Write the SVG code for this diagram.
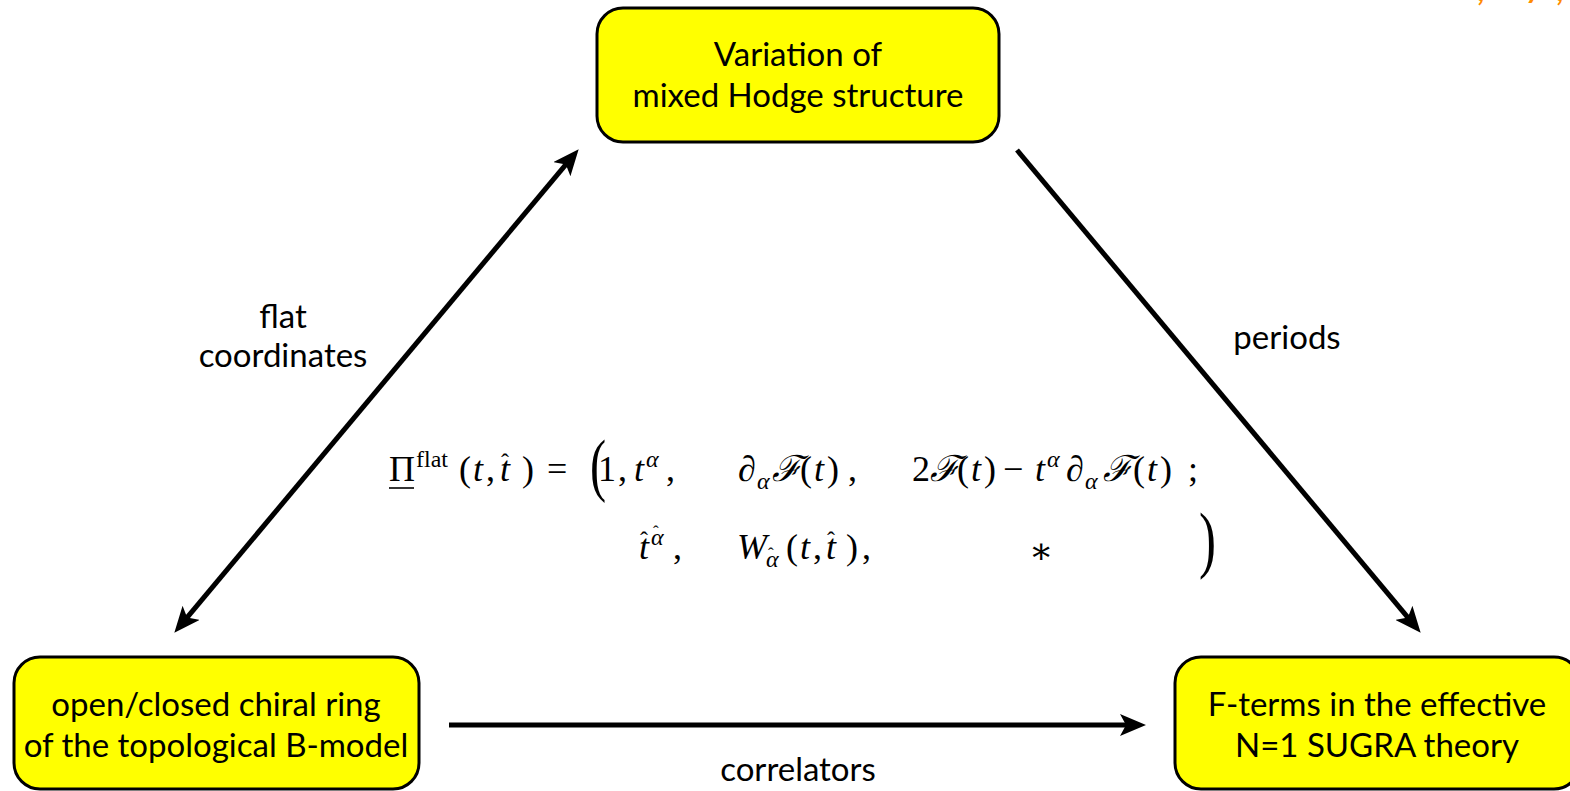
<svg xmlns="http://www.w3.org/2000/svg" width="1570" height="791" viewBox="0 0 1570 791">
<style>
.box{fill:#ffff00;stroke:#000;stroke-width:3}
.t{font-family:Lato,"Open Sans",sans-serif;font-size:33px;fill:#000;text-anchor:middle}
.m{font-family:"Liberation Serif","DejaVu Serif",serif;font-size:36px;fill:#000}
.i{font-style:italic}
.s{font-size:24px}
.h{font-size:24px}
.hs{font-size:17px}
.c{stroke:#000;stroke-width:5;fill:none}
.o{font-family:Lato,sans-serif;font-style:italic;font-weight:bold;font-size:30px;fill:#ff8c00}
</style>
<defs>
<marker id="ah" viewBox="0 0 26 22" refX="17" refY="11" markerWidth="26" markerHeight="22" markerUnits="userSpaceOnUse" orient="auto-start-reverse">
<path d="M0,0 L26,11 L0,22 L6,11 Z" fill="#000"/>
</marker>
</defs>
<rect width="1570" height="791" fill="#fff"/>
<text class="o" x="1478" y="1">,</text>
<text class="o" x="1527" y="-2">y</text>
<text class="o" x="1557" y="1">,</text>

<g id="connectors">
<line class="c" x1="180.1" y1="625.9" x2="572.9" y2="156.1" marker-start="url(#ah)" marker-end="url(#ah)"/>
<line class="c" x1="1017" y1="150" x2="1414.9" y2="625.9" marker-end="url(#ah)"/>
<line class="c" x1="449" y1="725" x2="1137" y2="725" marker-end="url(#ah)"/>
<text class="t" x="283" y="328">flat</text>
<text class="t" x="283" y="367">coordinates</text>
<text class="t" x="1287" y="349">periods</text>
<text class="t" x="798" y="781">correlators</text>
</g>

<g id="node-vmhs">
<rect class="box" x="597" y="8" width="402" height="134" rx="26"/>
<text class="t" x="798" y="66">Variation of</text>
<text class="t" x="798" y="107">mixed Hodge structure</text>
</g>

<g id="node-chiral-ring">
<rect class="box" x="14" y="657" width="405" height="132" rx="26"/>
<text class="t" x="216" y="716">open/closed chiral ring</text>
<text class="t" x="216" y="757">of the topological B-model</text>
</g>

<g id="node-fterms">
<rect class="box" x="1175" y="657" width="405" height="132" rx="26"/>
<text class="t" x="1377" y="716">F-terms in the effective</text>
<text class="t" x="1377" y="757">N=1 SUGRA theory</text>
</g>

<g id="formula">
<text class="m" x="389" y="481">Π</text>
<line x1="389" y1="488" x2="414" y2="488" stroke="#000" stroke-width="1.6"/>
<text class="m s" x="416" y="467">flat</text>
<text class="m" x="459" y="481">(</text>
<text class="m i" x="473" y="481">t</text>
<text class="m" x="486" y="481">,</text>
<text class="m i" x="500" y="481">t</text>
<text class="m h" x="501" y="470">ˆ</text>
<text class="m" x="522" y="481">)</text>
<text class="m" x="547" y="481">=</text>
<text class="m" x="590" y="488" transform="translate(590 488) scale(0.7 1) translate(-590 -488)" style="font-size:69px">(</text>
<text class="m" x="598" y="481">1</text>
<text class="m" x="618" y="481">,</text>
<text class="m i" x="634" y="481">t</text>
<text class="m i s" x="646" y="467">α</text>
<text class="m" x="666" y="481">,</text>

<text class="m" x="738" y="481">∂</text>
<text class="m i s" x="757" y="489">α</text>
<text class="m i" x="772" y="481">ℱ</text>
<text class="m" x="800" y="481">(</text>
<text class="m i" x="814" y="481">t</text>
<text class="m" x="827" y="481">)</text>
<text class="m" x="848" y="481">,</text>

<text class="m" x="912" y="481">2</text>
<text class="m i" x="930" y="481">ℱ</text>
<text class="m" x="957" y="481">(</text>
<text class="m i" x="971" y="481">t</text>
<text class="m" x="984" y="481">)</text>
<text class="m" x="1003" y="481">−</text>
<text class="m i" x="1035" y="481">t</text>
<text class="m i s" x="1047" y="467">α</text>
<text class="m" x="1066" y="481">∂</text>
<text class="m i s" x="1085" y="489">α</text>
<text class="m i" x="1103" y="481">ℱ</text>
<text class="m" x="1133" y="481">(</text>
<text class="m i" x="1147" y="481">t</text>
<text class="m" x="1160" y="481">)</text>
<text class="m" x="1188" y="481">;</text>

<text class="m i" x="639" y="559">t</text>
<text class="m h" x="640" y="548">ˆ</text>
<text class="m i s" x="651" y="545">α</text>
<text class="m hs" x="653" y="537">ˆ</text>
<text class="m" x="673" y="559">,</text>
<text class="m i" x="737" y="559">W</text>
<text class="m i s" x="766" y="567">α</text>
<text class="m hs" x="768" y="559">ˆ</text>
<text class="m" x="786" y="559">(</text>
<text class="m i" x="800" y="559">t</text>
<text class="m" x="813" y="559">,</text>
<text class="m i" x="826" y="559">t</text>
<text class="m h" x="827" y="548">ˆ</text>
<text class="m" x="846" y="559">)</text>
<text class="m" x="862" y="559">,</text>
<text class="m" x="1029" y="563">∗</text>
<text class="m" x="1199" y="564" transform="translate(1199 564) scale(0.7 1) translate(-1199 -564)" style="font-size:73px">)</text>
</g>
</svg>
